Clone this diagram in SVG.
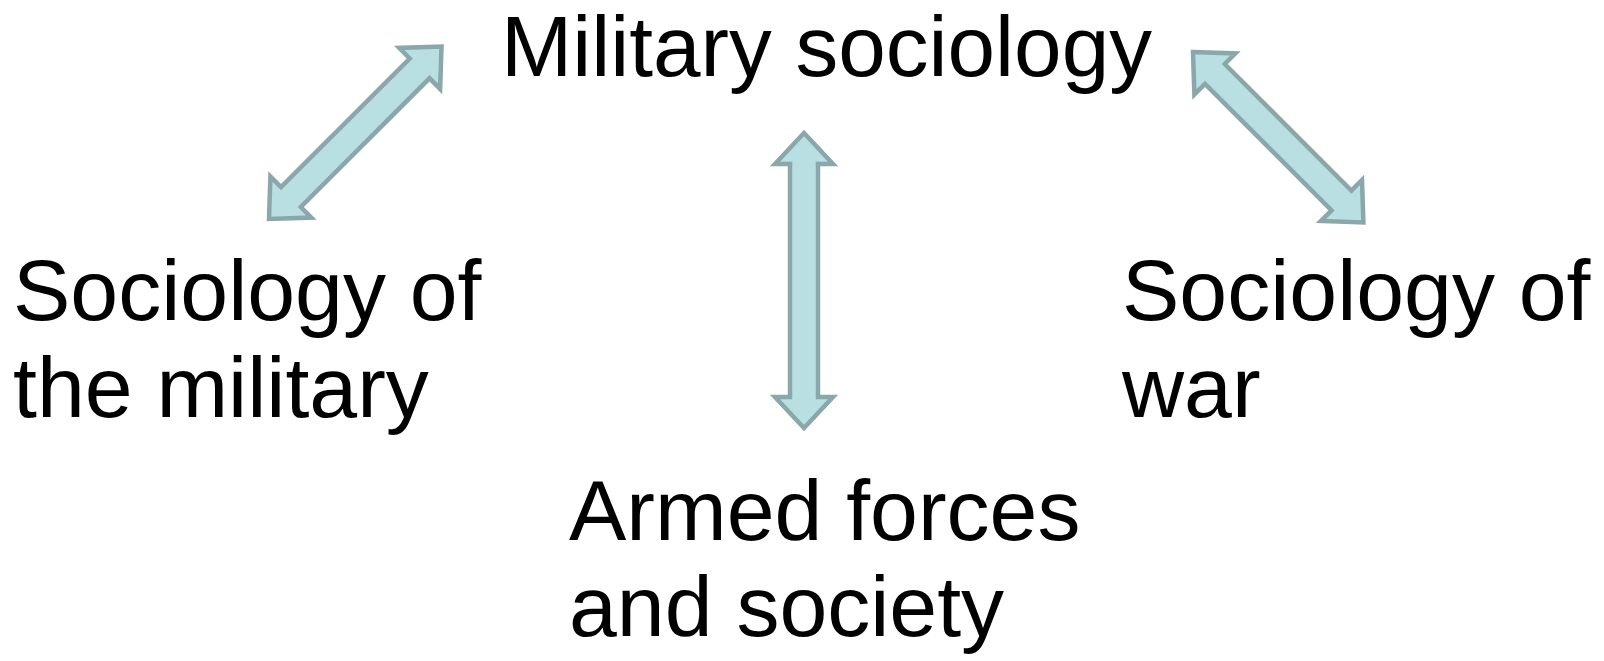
<svg xmlns="http://www.w3.org/2000/svg" width="1604" height="661" viewBox="0 0 1604 661">
<style>
.lbl{font-family:"Liberation Sans",Arial,sans-serif;font-size:86px;fill:#000}
.arr{fill:#b9dfe2;stroke:#8aa7a9;stroke-width:4.5;stroke-linejoin:miter}
</style>
<rect width="1604" height="661" fill="#fff"/>
<g id="connectors">
<polygon class="arr" transform="translate(269,219) rotate(-45)" points="0,0 31,-29 31,-14 213,-14 213,-29 244,0 213,29 213,14 31,14 31,29"/>
<polygon class="arr" transform="translate(804,133) rotate(90)" points="0,0 31,-29 31,-14 264,-14 264,-29 295,0 264,29 264,14 31,14 31,29"/>
<polygon class="arr" transform="translate(1193,52) rotate(45)" points="0,0 31,-29 31,-14 210,-14 210,-29 241,0 210,29 210,14 31,14 31,29"/>
</g>
<g id="node-military-sociology"><text class="lbl" x="501" y="76" style="font-size:85.5px">Military sociology</text></g>
<g id="node-sociology-of-the-military"><text class="lbl" x="13" y="320">Sociology of<tspan x="13" y="417">the military</tspan></text></g>
<g id="node-sociology-of-war"><text class="lbl" x="1122" y="320">Sociology of<tspan x="1122" y="417">war</tspan></text></g>
<g id="node-armed-forces"><text class="lbl" x="569" y="540">Armed forces<tspan x="569" y="636">and society</tspan></text></g>
</svg>
